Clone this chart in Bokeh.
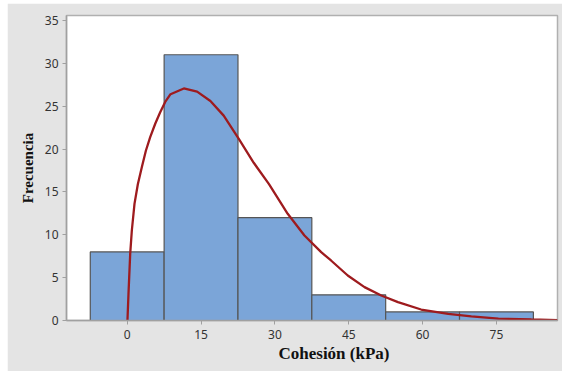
import numpy as np
from bokeh.plotting import figure
from bokeh.models import Title, FixedTicker
from bokeh.embed import file_html
from bokeh.resources import INLINE

# Histogram data
bin_centers = [0, 15, 30, 45, 60, 75]
counts = [8, 31, 12, 3, 1, 1]
bin_width = 15

# Fitted curve
curve_x = [0.05, 0.26, 0.61, 0.94, 1.48, 2.16, 2.98, 3.79, 4.67, 5.69, 6.7, 7.72, 8.8,
           11.5, 14.2, 16.9, 19.6, 22.7, 25.7, 28.8, 32.6, 36.0, 39.4, 41.4,
           44.8, 48.2, 51.6, 55.0, 59.7, 65.2, 69.9, 75.4, 82.1, 87.4]
curve_y = [0.0, 3.1, 7.8, 10.5, 13.6, 15.9, 17.9, 19.8, 21.4, 22.95, 24.3, 25.5, 26.4,
           27.07, 26.7, 25.6, 23.9, 21.15, 18.4, 15.9, 12.45, 9.92, 7.97, 7.0,
           5.25, 3.89, 2.92, 2.14, 1.28, 0.78, 0.47, 0.23, 0.12, 0.05]

x_ticks = [0, 15, 30, 45, 60, 75]
y_ticks = [0, 5, 10, 15, 20, 25, 30, 35]

p = figure(width=555, height=368, output_backend="svg", toolbar_location=None,
           x_range=(-12.33, 87.4), y_range=(0, 35.58),
           min_border_left=59, min_border_right=5, min_border_top=12, min_border_bottom=51)
p.margin = (3, 0, 0, 7)
p.background_fill_color = "white"
p.border_fill_color = "#e4e4e4"
p.outline_line_color = "#b0b0b0"
p.outline_line_width = 1.5

p.vbar(x=bin_centers, top=counts, width=bin_width, bottom=0,
       fill_color="#7ba5d8", line_color="#555555", line_width=1.2)
p.line(curve_x, curve_y, line_color="#9e1b1e", line_width=2.3)

p.grid.visible = False
for ax in (p.xaxis, p.yaxis):
    ax.axis_line_color = "#a0a0a0"
    ax.axis_line_width = 1.5
    ax.major_tick_line_color = "#a0a0a0"
    ax.major_tick_out = 4
    ax.major_tick_in = 0
    ax.minor_tick_line_color = None
    ax.major_label_text_font = "Noto Sans"
    ax.major_label_text_font_size = "12px"
    ax.major_label_text_color = "#333333"

p.xaxis.ticker = FixedTicker(ticks=x_ticks)
p.yaxis.ticker = FixedTicker(ticks=y_ticks)
p.xaxis.major_label_standoff = 5
p.yaxis.major_label_standoff = 4

p.yaxis.axis_label = "Frecuencia"
p.yaxis.axis_label_text_font = "Liberation Serif"
p.yaxis.axis_label_text_font_style = "bold"
p.yaxis.axis_label_text_font_size = "15px"
p.yaxis.axis_label_text_color = "#111111"
p.yaxis.axis_label_standoff = 6

xt = Title(text="Cohesión (kPa)", align="left", offset=212,
           text_font="Liberation Serif", text_font_style="bold",
           text_font_size="17px", text_color="#111111", standoff=1)
p.add_layout(xt, "below")

open("out.html", "w").write(file_html(p, INLINE))
